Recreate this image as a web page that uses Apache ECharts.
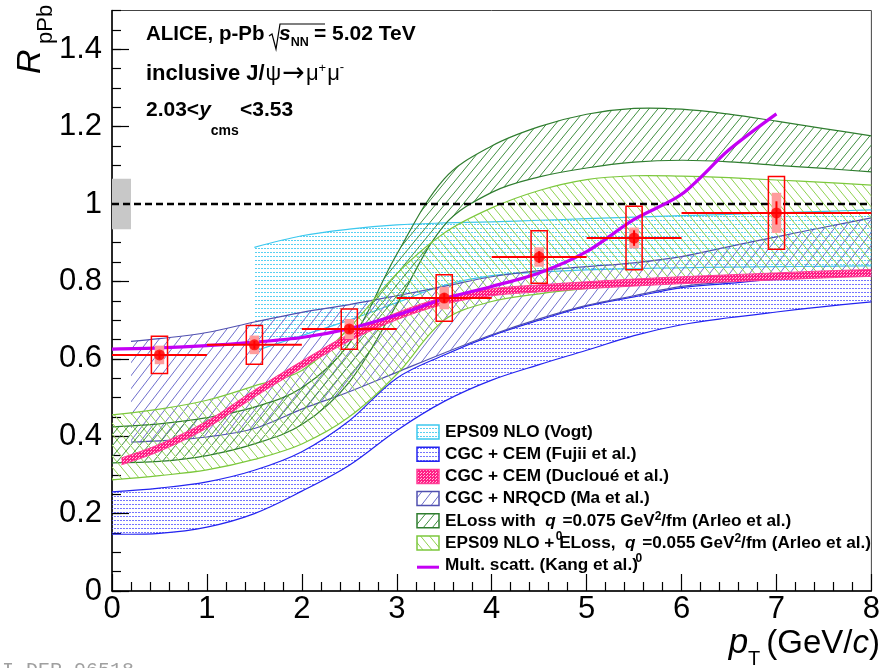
<!DOCTYPE html>
<html>
<head>
<meta charset="utf-8">
<script src="https://cdn.jsdelivr.net/npm/echarts@6/dist/echarts.min.js"></script>
<style>
  html, body { margin: 0; padding: 0; background: #fff; }
  #c { width: 883px; height: 668px; }
</style>
</head>
<body>
<div id="c"></div>
<script>
// ---------------- data ----------------
// common pT sampling of the model curves (GeV/c)
const pt = [0, 0.5, 1, 1.5, 2, 2.5, 3, 3.5, 4, 4.5, 5, 5.5, 6, 6.5, 7, 7.5, 8];

// EPS09 NLO (Vogt)
const vogtPt = [1.5, 2, 2.5, 3, 3.5, 4, 4.5, 5, 5.5, 6, 6.5, 7, 7.5, 8];
const vogtLo = [0.62, 0.66, 0.70, 0.745, 0.79, 0.815, 0.824, 0.83, 0.833, 0.835, 0.837, 0.838, 0.839, 0.84];
const vogtHi = [0.888, 0.918, 0.935, 0.946, 0.951, 0.954, 0.958, 0.962, 0.966, 0.97, 0.973, 0.977, 0.981, 0.985];

// CGC + CEM (Fujii et al.)
const fujiiLo = [0.147, 0.149, 0.165, 0.20, 0.258, 0.325, 0.415, 0.49, 0.545, 0.585, 0.622, 0.66, 0.688, 0.706, 0.721, 0.735, 0.747];
const fujiiHi = [0.256, 0.266, 0.282, 0.312, 0.36, 0.44, 0.55, 0.61, 0.66, 0.70, 0.736, 0.76, 0.784, 0.795, 0.806, 0.812, 0.817];

// CGC + CEM (Ducloué et al.)
const ducPt = [0.1, 0.5, 1, 1.5, 2, 2.5, 3, 3.5, 4, 4.5, 5, 5.5, 6, 6.5, 7, 7.5, 8];
const ducLo = [0.326, 0.361, 0.421, 0.501, 0.576, 0.646, 0.701, 0.741, 0.763, 0.773, 0.781, 0.788, 0.794, 0.799, 0.804, 0.809, 0.813];
const ducHi = [0.344, 0.379, 0.439, 0.519, 0.594, 0.664, 0.719, 0.759, 0.781, 0.791, 0.799, 0.806, 0.812, 0.817, 0.822, 0.827, 0.831];

// CGC + NRQCD (Ma et al.)
const maPt = [0.2, 0.5, 1, 1.5, 2, 2.5, 3, 3.5, 4, 4.5, 5, 5.5, 6, 6.5, 7, 7.5, 8];
const maLo = [0.385, 0.388, 0.398, 0.42, 0.47, 0.515, 0.565, 0.615, 0.662, 0.703, 0.738, 0.763, 0.787, 0.799, 0.809, 0.816, 0.822];
const maHi = [0.645, 0.652, 0.668, 0.695, 0.72, 0.74, 0.763, 0.787, 0.812, 0.828, 0.838, 0.848, 0.864, 0.89, 0.915, 0.94, 0.964];

// ELoss, q0 = 0.075 GeV^2/fm (Arleo et al.)
const elossLo = [0.331, 0.335, 0.35, 0.38, 0.43, 0.54, 0.74, 0.945, 1.03, 1.07, 1.093, 1.108, 1.113, 1.109, 1.1, 1.092, 1.083];
const elossHi = [0.424, 0.432, 0.448, 0.475, 0.525, 0.64, 0.87, 1.065, 1.15, 1.2, 1.232, 1.247, 1.245, 1.232, 1.214, 1.195, 1.176];

// EPS09 NLO + ELoss, q0 = 0.055 GeV^2/fm (Arleo et al.)
const epsElossLo = [0.287, 0.298, 0.313, 0.34, 0.38, 0.45, 0.56, 0.70, 0.748, 0.768, 0.782, 0.792, 0.80, 0.808, 0.815, 0.82, 0.824];
const epsElossHi = [0.455, 0.47, 0.493, 0.53, 0.57, 0.68, 0.82, 0.925, 0.99, 1.035, 1.063, 1.073, 1.072, 1.068, 1.062, 1.056, 1.049];

// Multiple scattering (Kang et al.)
const kangPt = [0, 0.5, 1, 1.5, 2, 2.5, 3, 3.5, 4, 4.5, 5, 5.5, 6, 6.5, 7];
const kangR = [0.625, 0.628, 0.634, 0.643, 0.655, 0.678, 0.713, 0.755, 0.787, 0.822, 0.877, 0.96, 1.025, 1.14, 1.233];

// ALICE inclusive J/psi R_pPb, 2.03 < y_cms < 3.53
const binCentre = [0.5, 1.5, 2.5, 3.5, 4.5, 5.5, 7];
const binLow    = [0, 1, 2, 3, 4, 5, 6];
const binHigh   = [1, 2, 3, 4, 5, 6, 8];
const rpPb      = [0.61, 0.636, 0.677, 0.757, 0.863, 0.912, 0.977];
const statErr   = [0.01, 0.01, 0.01, 0.012, 0.015, 0.02, 0.03];
const systUncorr = [0.048, 0.05, 0.052, 0.06, 0.068, 0.082, 0.094];
const systCorr   = [0.024, 0.024, 0.026, 0.029, 0.025, 0.027, 0.052];

// global normalisation uncertainty drawn at unity
const unity = 1;
const globalUnc = 0.065;
const globalBoxPt = [0, 0.2];

// axis range
const xTicks = [0, 1, 2, 3, 4, 5, 6, 7, 8];
const yMax = 1.5;

// ---------------- fill patterns ----------------
function hatchPattern(color, w, h, rising, lw) {
  const c = document.createElement('canvas');
  c.width = w; c.height = h;
  const g = c.getContext('2d');
  g.strokeStyle = color; g.lineWidth = lw;
  g.beginPath();
  for (let k = -1; k <= 1; k++) {
    if (rising) { g.moveTo(k * w, h); g.lineTo(k * w + w, 0); }
    else { g.moveTo(k * w, 0); g.lineTo(k * w + w, h); }
  }
  g.stroke();
  return c;
}
function dotRowPattern(color, w, h) {
  const c = document.createElement('canvas');
  c.width = w; c.height = h;
  const g = c.getContext('2d');
  g.fillStyle = color;
  g.fillRect(0, 0, 2, 1);
  return c;
}
function densePattern(colA, colB) {
  const c = document.createElement('canvas');
  c.width = 3; c.height = 3;
  const g = c.getContext('2d');
  g.fillStyle = colA; g.fillRect(0, 0, 3, 3);
  g.fillStyle = colB; g.fillRect(1, 1, 1, 1); g.fillRect(0, 2, 1, 1);
  return c;
}

const style = {
  vogt:   { edge: '#3cc8ee', fill: dotRowPattern('rgba(60,200,240,0.85)', 3, 4) },
  fujii:  { edge: '#2424f0', fill: dotRowPattern('rgba(70,70,255,0.75)', 3, 4) },
  duc:    { edge: '#ff3d96', fill: densePattern('#ff1f86', '#ffc2dc') },
  ma:     { edge: '#5050b0', fill: hatchPattern('#6d6dcc', 10, 13, true, 1) },
  eloss:  { edge: '#2f7d2f', fill: hatchPattern('#3f8f3f', 9, 11, true, 1) },
  epsEl:  { edge: '#7cc83c', fill: hatchPattern('#8fd24f', 9, 11, false, 1) },
  kang:   '#c400f4'
};

// ---------------- model band: filled region between two smoothed edges ----------------
const SMOOTH = 0.35;
function band(id, xs, lo, hi, st, z, edgeWidth) {
  return {
    type: 'custom', id: id, z: z, silent: true, animation: false,
    data: xs.map((x, i) => [x, lo[i], hi[i]]),
    renderItem: function (params, api) {
      if (params.dataIndexInside !== 0) return null;
      const n = xs.length;
      const upper = [], lower = [];
      for (let i = 0; i < n; i++) {
        upper.push(api.coord([api.value(0, i), api.value(2, i)]));
        lower.push(api.coord([api.value(0, i), api.value(1, i)]));
      }
      // corner points are doubled so the closed outline keeps straight vertical ends
      const poly = [upper[0]].concat(upper, [upper[n - 1], lower[n - 1]], lower.slice().reverse(), [lower[0]]);
      return {
        type: 'group', children: [
          { type: 'polygon', shape: { points: poly, smooth: SMOOTH }, style: { fill: { image: st.fill, repeat: 'repeat' }, stroke: null } },
          { type: 'polyline', shape: { points: upper, smooth: SMOOTH }, style: { stroke: st.edge, lineWidth: edgeWidth || 1.2, fill: null } },
          { type: 'polyline', shape: { points: lower, smooth: SMOOTH }, style: { stroke: st.edge, lineWidth: edgeWidth || 1.2, fill: null } }
        ]
      };
    }
  };
}

// ---------------- text helpers ----------------
const FAM = 'Liberation Sans, Arial, Helvetica, sans-serif';
const measureCtx = document.createElement('canvas').getContext('2d');
function fontStr(p) {
  return (p.italic ? 'italic ' : '') + (p.bold ? 'bold ' : '') + p.size + 'px ' + (p.family || FAM);
}
function textWidth(p) { measureCtx.font = fontStr(p); return measureCtx.measureText(p.t).width; }
function piece(x, base, p) {
  return {
    type: 'text', x: x, y: base + (p.dy || 0) - 0.3465 * p.size, z: 50, silent: true,
    style: {
      text: p.t, fill: p.color || '#000', align: 'left', verticalAlign: 'middle',
      fontFamily: p.family || FAM, fontSize: p.size,
      fontWeight: p.bold ? 'bold' : 'normal', fontStyle: p.italic ? 'italic' : 'normal'
    }
  };
}
// lays out text pieces along a common baseline, each piece with its own shift
function textRun(x, base, parts, align) {
  let total = 0;
  parts.forEach(p => { total += textWidth(p) + (p.gap || 0); });
  let cx = align === 'right' ? x - total : x;
  const out = [];
  parts.forEach(p => {
    const px = p.at !== undefined ? p.at : cx;
    out.push(piece(px, base, p));
    cx = px + textWidth(p) + (p.gap || 0);
  });
  return out;
}

// ---------------- graphic overlay: labels, legend ----------------
const graphics = [];

// collision system, energy
graphics.push(...textRun(146, 41, [{ t: 'ALICE, p-Pb', size: 20.5, bold: true }]));
graphics.push({
  type: 'polyline', z: 50, silent: true,
  shape: { points: [[269, 36], [272, 34], [276, 49], [280, 24], [325, 24]] },
  style: { stroke: '#000', lineWidth: 1.2, fill: null }
});
graphics.push(...textRun(279, 41, [
  { t: 's', size: 21, bold: true, italic: true },
  { t: 'NN', size: 12.5, bold: true, dy: 6 },
  { t: '= 5.02 TeV', size: 21, bold: true, at: 314 }
]));
graphics.push(...textRun(146, 82, [
  { t: 'inclusive J/', size: 22, bold: true, gap: 1 },
  { t: 'ψ', size: 22, gap: 1 },
  { t: '→', size: 27, family: 'DejaVu Sans', dy: 1, gap: 1 },
  { t: 'μ', size: 22 },
  { t: '+', size: 13, dy: -9, gap: 1 },
  { t: 'μ', size: 22 },
  { t: '-', size: 13, dy: -10 }
]));
graphics.push(...textRun(146, 117, [
  { t: '2.03<', size: 21, bold: true },
  { t: 'y', size: 21, bold: true, italic: true },
  { t: 'cms', size: 14, bold: true, dy: 19 },
  { t: '<3.53', size: 21, bold: true, at: 240 }
]));

// axis titles
graphics.push(...textRun(880, 655, [
  { t: 'p', size: 35, italic: true },
  { t: 'T', size: 20, dy: 11, gap: 6 },
  { t: '(GeV/', size: 33 },
  { t: 'c', size: 33, italic: true },
  { t: ')', size: 33 }
], 'right'));
graphics.push({
  type: 'text', x: 31, y: 74, rotation: Math.PI / 2, z: 50, silent: true,
  style: { text: 'R', fontFamily: FAM, fontSize: 34, fontStyle: 'italic', fill: '#000', align: 'left', verticalAlign: 'middle' }
});
graphics.push({
  type: 'text', x: 46, y: 44, rotation: Math.PI / 2, z: 50, silent: true,
  style: { text: 'pPb', fontFamily: FAM, fontSize: 22, fill: '#000', align: 'left', verticalAlign: 'middle' }
});

// legend
const legendRows = [
  { key: 'vogt',  parts: [{ t: 'EPS09 NLO (Vogt)' }] },
  { key: 'fujii', parts: [{ t: 'CGC + CEM (Fujii et al.)' }] },
  { key: 'duc',   parts: [{ t: 'CGC + CEM (Ducloué et al.)' }] },
  { key: 'ma',    parts: [{ t: 'CGC + NRQCD (Ma et al.)' }] },
  { key: 'eloss', parts: [{ t: 'ELoss with  ' }, { t: 'q', italic: true }, { t: '0', small: true, dy: 14 }, { t: '=0.075 GeV' }, { t: '2', small: true, dy: -6 }, { t: '/fm (Arleo et al.)' }] },
  { key: 'epsEl', parts: [{ t: 'EPS09 NLO + ELoss,  ' }, { t: 'q', italic: true }, { t: '0', small: true, dy: 14 }, { t: '=0.055 GeV' }, { t: '2', small: true, dy: -6 }, { t: '/fm (Arleo et al.)' }] },
  { key: 'kang',  parts: [{ t: 'Mult. scatt. (Kang et al.)' }] }
];
const legendX = 416, legendTextX = 445, legendBase0 = 438, legendStep = 22.2;
legendRows.forEach((row, i) => {
  const base = legendBase0 + i * legendStep;
  if (row.key === 'kang') {
    graphics.push({
      type: 'line', z: 50, silent: true,
      shape: { x1: legendX + 1, y1: base - 4, x2: legendX + 23, y2: base - 4 },
      style: { stroke: style.kang, lineWidth: 3 }
    });
  } else {
    const st = style[row.key];
    graphics.push({
      type: 'rect', z: 50, silent: true,
      shape: { x: legendX + 1, y: base - 13, width: 22, height: 14 },
      style: { fill: { image: st.fill, repeat: 'repeat' }, stroke: st.edge, lineWidth: 1.5 }
    });
  }
  graphics.push(...textRun(legendTextX, base, row.parts.map(p => ({
    t: p.t, size: p.small ? 12 : 17.2, bold: true, italic: !!p.italic, dy: p.dy || 0
  }))));
});

// figure id at the lower-left corner
graphics.push({
  type: 'text', x: -22, y: 661, z: 50, silent: true,
  style: { text: 'ALI-DER-96518', fontFamily: 'Liberation Mono, DejaVu Sans Mono, monospace', fontSize: 20, fill: '#a0a0a0', align: 'left', verticalAlign: 'top' }
});

// ---------------- chart ----------------
const chart = echarts.init(document.getElementById('c'), null, { renderer: 'canvas' });

const series = [
  band('vogt', vogtPt, vogtLo, vogtHi, style.vogt, 2),
  band('fujii', pt, fujiiLo, fujiiHi, style.fujii, 2),
  band('ma', maPt, maLo, maHi, style.ma, 2),
  band('eloss', pt, elossLo, elossHi, style.eloss, 2),
  band('epsEl', pt, epsElossLo, epsElossHi, style.epsEl, 2),
  band('duc', ducPt, ducLo, ducHi, style.duc, 2, 1)
];

// global normalisation box
series.push({
  type: 'custom', z: 3, silent: true, animation: false,
  data: [[globalBoxPt[0], globalBoxPt[1], unity, globalUnc]],
  renderItem: function (params, api) {
    const a = api.coord([api.value(0), api.value(2) + api.value(3)]);
    const b = api.coord([api.value(1), api.value(2) - api.value(3)]);
    return { type: 'rect', shape: { x: a[0], y: a[1], width: b[0] - a[0], height: b[1] - a[1] }, style: { fill: '#c8c8c8' } };
  }
});

// unity reference line
series.push({
  type: 'line', z: 4, silent: true, animation: false, symbol: 'none',
  data: [[xTicks[0], unity], [xTicks[xTicks.length - 1], unity]],
  lineStyle: { color: '#000', width: 2.5, type: [7, 4] }
});

// multiple-scattering curve
series.push({
  type: 'line', z: 4, silent: true, animation: false, symbol: 'none', smooth: 0.3,
  data: kangPt.map((x, i) => [x, kangR[i]]),
  lineStyle: { color: style.kang, width: 3.2 }
});

// data: systematic boxes and error bars
const CORR_HALF = 0.05, UNCORR_HALF = 0.085;
series.push({
  type: 'custom', z: 6, silent: true, animation: false,
  data: binCentre.map((x, i) => [x, rpPb[i], binLow[i], binHigh[i], systUncorr[i], systCorr[i], statErr[i]]),
  renderItem: function (params, api) {
    const x = api.value(0), y = api.value(1);
    const c1 = api.coord([x - CORR_HALF, y + api.value(5)]);
    const c2 = api.coord([x + CORR_HALF, y - api.value(5)]);
    const s1 = api.coord([x - UNCORR_HALF, y + api.value(4)]);
    const s2 = api.coord([x + UNCORR_HALF, y - api.value(4)]);
    const h1 = api.coord([api.value(2), y]);
    const h2 = api.coord([api.value(3), y]);
    const v1 = api.coord([x, y + api.value(6)]);
    const v2 = api.coord([x, y - api.value(6)]);
    return {
      type: 'group', children: [
        { type: 'rect', shape: { x: c1[0], y: c1[1], width: c2[0] - c1[0], height: c2[1] - c1[1] }, style: { fill: '#ff9c9c' } },
        { type: 'line', shape: { x1: h1[0], y1: h1[1], x2: h2[0], y2: h2[1] }, style: { stroke: '#ff0000', lineWidth: 2 } },
        { type: 'line', shape: { x1: v1[0], y1: v1[1], x2: v2[0], y2: v2[1] }, style: { stroke: '#ff0000', lineWidth: 2 } },
        { type: 'rect', shape: { x: s1[0], y: s1[1], width: s2[0] - s1[0], height: s2[1] - s1[1] }, style: { fill: null, stroke: '#ff0000', lineWidth: 1.5 } }
      ]
    };
  }
});
series.push({
  type: 'scatter', z: 7, silent: true, animation: false,
  symbol: 'circle', symbolSize: 11,
  itemStyle: { color: '#ff0000' },
  data: binCentre.map((x, i) => [x, rpPb[i]])
});

const option = {
  animation: false,
  backgroundColor: '#fff',
  grid: { left: 112, right: 8, top: 10.5, bottom: 77, show: true, borderColor: '#444', borderWidth: 1, backgroundColor: 'transparent' },
  xAxis: {
    type: 'value', min: xTicks[0], max: xTicks[xTicks.length - 1], interval: 1,
    axisLine: { lineStyle: { color: '#000', width: 1.5 } },
    axisTick: { inside: true, length: 17, lineStyle: { color: '#000', width: 1.2 } },
    minorTick: { show: true, splitNumber: 5, length: 9, lineStyle: { color: '#000', width: 1.2 } },
    splitLine: { show: false }, minorSplitLine: { show: false },
    axisLabel: { color: '#000', fontSize: 31, fontFamily: FAM, margin: 3 }
  },
  yAxis: [
    {
      type: 'value', min: 0, max: yMax, interval: 0.2,
      axisLine: { show: true, lineStyle: { color: '#000', width: 1.5 } },
      axisTick: { inside: true, length: 17, lineStyle: { color: '#000', width: 1.2 } },
      splitLine: { show: false },
      axisLabel: { color: '#000', fontSize: 31, fontFamily: FAM, margin: 10, showMaxLabel: false }
    },
    {
      type: 'value', min: 0, max: yMax, interval: 0.05, position: 'left',
      axisLine: { show: false },
      axisTick: { show: true, inside: true, length: 9, lineStyle: { color: '#000', width: 1.2 } },
      splitLine: { show: false },
      axisLabel: { show: false }
    }
  ],
  series: series,
  graphic: graphics
};
chart.setOption(option);
</script>
</body>
</html>
